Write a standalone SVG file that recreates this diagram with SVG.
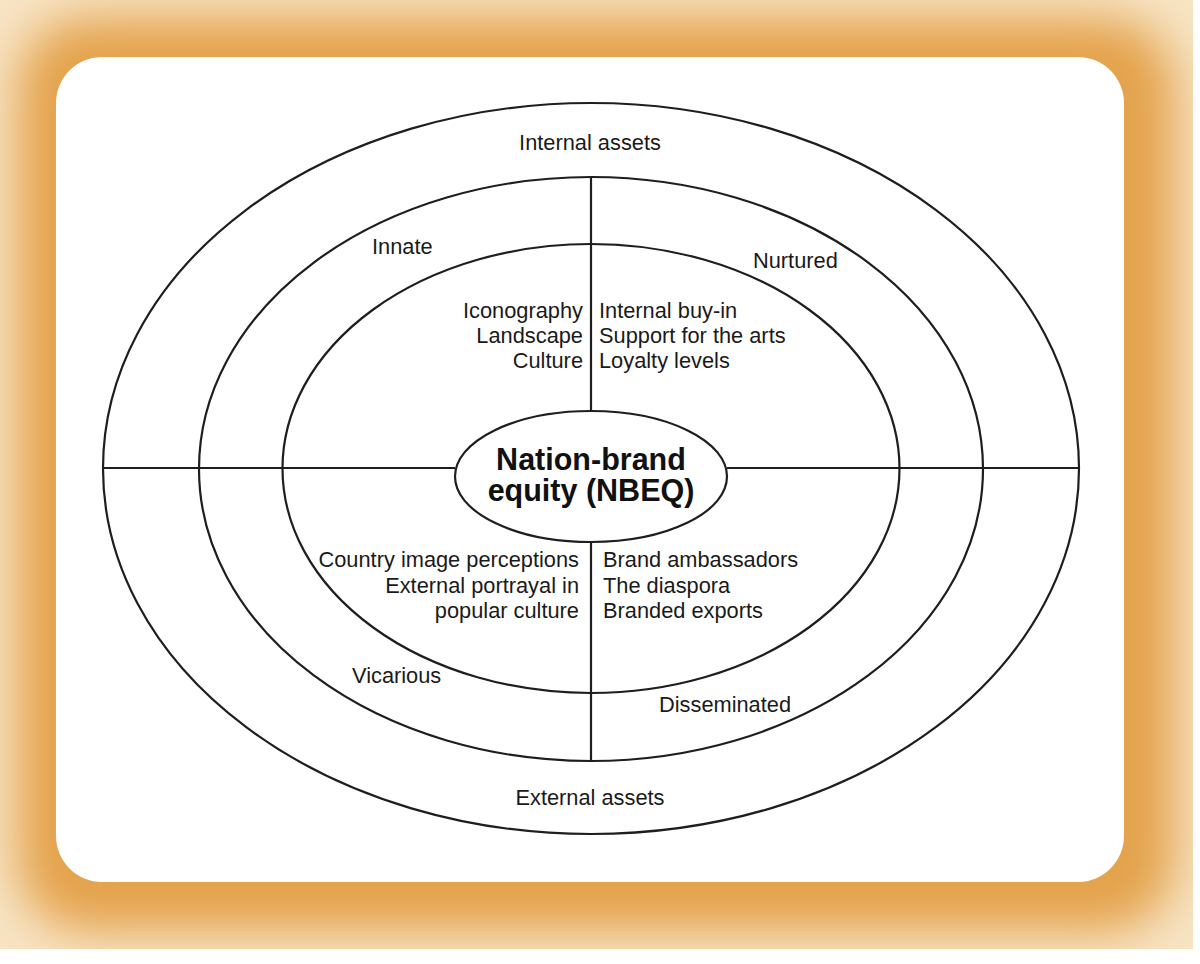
<svg xmlns="http://www.w3.org/2000/svg" width="1200" height="964" viewBox="0 0 1200 964">
  <defs>
    <filter id="glow" x="-10%" y="-10%" width="120%" height="120%">
      <feGaussianBlur stdDeviation="24"/>
    </filter>
    <clipPath id="frameClip">
      <rect x="0" y="0" width="1193" height="949"/>
    </clipPath>
    <style>
      .ln { fill: none; stroke: #1e1e1e; stroke-width: 2.2; }
      .t { font-family: "Liberation Sans", Arial, Helvetica, sans-serif; font-size: 21.8px; fill: #1a1a1a; }
      .b { font-family: "Liberation Sans", Arial, Helvetica, sans-serif; font-size: 30.5px; font-weight: bold; fill: #111; }
    </style>
  </defs>

  <g id="background">
    <rect x="0" y="0" width="1200" height="964" fill="#ffffff"/>
    <g clip-path="url(#frameClip)">
      <rect x="0" y="0" width="1193" height="949" fill="#f7e4c4"/>
      <rect x="18" y="18" width="1157" height="913" rx="70" fill="#e4a24b" filter="url(#glow)"/>
    </g>
    <rect x="56" y="57" width="1068" height="825" rx="46" fill="#ffffff"/>
  </g>

  <g id="connectors">
    <line class="ln" x1="103" y1="468" x2="455" y2="468"/>
    <line class="ln" x1="727" y1="468" x2="1079" y2="468"/>
    <line class="ln" x1="591" y1="177" x2="591" y2="411"/>
    <line class="ln" x1="591" y1="542" x2="591" y2="761"/>
  </g>

  <g id="outer-ring">
    <ellipse class="ln" cx="591" cy="468.5" rx="488" ry="365.5"/>
    <text class="t" x="590" y="150" text-anchor="middle">Internal assets</text>
    <text class="t" x="590" y="805" text-anchor="middle">External assets</text>
  </g>

  <g id="middle-ring">
    <ellipse class="ln" cx="591" cy="469" rx="392" ry="292"/>
    <text class="t" x="372" y="254">Innate</text>
    <text class="t" x="753" y="268">Nurtured</text>
    <text class="t" x="352" y="683">Vicarious</text>
    <text class="t" x="659" y="712">Disseminated</text>
  </g>

  <g id="inner-ring">
    <ellipse class="ln" cx="591" cy="468.5" rx="308.5" ry="224.5"/>
  </g>

  <g id="innate-items">
    <text class="t" x="583" y="318" text-anchor="end">Iconography</text>
    <text class="t" x="583" y="343" text-anchor="end">Landscape</text>
    <text class="t" x="583" y="368" text-anchor="end">Culture</text>
  </g>

  <g id="nurtured-items">
    <text class="t" x="599" y="318">Internal buy-in</text>
    <text class="t" x="599" y="343">Support for the arts</text>
    <text class="t" x="599" y="368">Loyalty levels</text>
  </g>

  <g id="vicarious-items">
    <text class="t" x="579" y="567" text-anchor="end">Country image perceptions</text>
    <text class="t" x="579" y="593" text-anchor="end">External portrayal in</text>
    <text class="t" x="579" y="618" text-anchor="end">popular culture</text>
  </g>

  <g id="disseminated-items">
    <text class="t" x="603" y="567">Brand ambassadors</text>
    <text class="t" x="603" y="593">The diaspora</text>
    <text class="t" x="603" y="618">Branded exports</text>
  </g>

  <g id="nbeq">
    <ellipse class="ln" cx="591" cy="476.5" rx="136" ry="65.5" fill="#ffffff"/>
    <text class="b" x="591" y="470" text-anchor="middle">Nation-brand</text>
    <text class="b" x="591" y="501" text-anchor="middle">equity (NBEQ)</text>
  </g>
</svg>
